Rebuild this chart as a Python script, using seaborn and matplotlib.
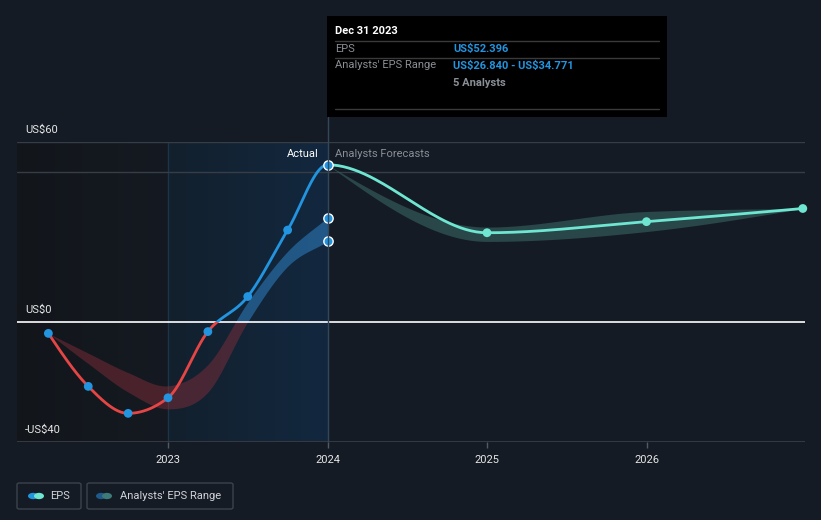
import numpy as np
import pandas as pd
import matplotlib
matplotlib.use("Agg")
import matplotlib.pyplot as plt
import seaborn as sns
from matplotlib.patches import Rectangle, FancyBboxPatch, Circle
from matplotlib.lines import Line2D
from matplotlib.colors import LinearSegmentedColormap

# ---------------- data ----------------
hist_x = [2022.25, 2022.5, 2022.75, 2023.0, 2023.25, 2023.5, 2023.75, 2024.0]
hist_eps = [-3.9, -21.6, -30.6, -25.4, -3.3, 8.4, 30.6, 52.396]
hist_range_hi = [-3.9, -10.5, -17.0, -21.4, -14.3, 6.5, 23.5, 34.771]
hist_range_lo = [-3.9, -14.0, -23.5, -29.1, -23.5, 0.0, 18.5, 26.840]

fc_x = [2024.0, 2025.0, 2026.0, 2026.98]
fc_eps = [52.396, 29.7, 33.4, 37.8]
fc_hi = [52.396, 31.6, 36.8, 37.8]
fc_lo = [52.396, 26.8, 30.1, 37.8]

y_ticks = [60, 0, -40]
y_tick_labels = ["US$60", "US$0", "-US$40"]
x_ticks = [2023, 2024, 2025, 2026]
x_tick_labels = ["2023", "2024", "2025", "2026"]

# ---------------- helpers ----------------
def hermite(x, y, m, n=60):
    h = np.diff(x)
    xs, ys = [], []
    for i in range(len(x) - 1):
        t = np.linspace(0, 1, n, endpoint=(i == len(x) - 2))
        h00 = 2 * t**3 - 3 * t**2 + 1
        h10 = t**3 - 2 * t**2 + t
        h01 = -2 * t**3 + 3 * t**2
        h11 = t**3 - t**2
        xs.append(x[i] + t * h[i])
        ys.append(h00 * y[i] + h10 * h[i] * m[i] + h01 * y[i + 1] + h11 * h[i] * m[i + 1])
    return np.concatenate(xs), np.concatenate(ys)

def monotone(x, y, n=60):
    x = np.asarray(x, float); y = np.asarray(y, float)
    h = np.diff(x); s = np.diff(y) / h
    m = np.zeros(len(x))
    for i in range(1, len(x) - 1):
        s0, s1 = s[i - 1], s[i]
        p = (s0 * h[i] + s1 * h[i - 1]) / (h[i - 1] + h[i])
        m[i] = (np.sign(s0) + np.sign(s1)) * min(abs(s0), abs(s1), 0.5 * abs(p))
    m[0] = (3 * s[0] - m[1]) / 2
    m[-1] = (3 * s[-1] - m[-2]) / 2
    return hermite(x, y, m, n)

def cardinal(x, y, n=60):
    x = np.asarray(x, float); y = np.asarray(y, float)
    m = np.zeros(len(x))
    for i in range(1, len(x) - 1):
        m[i] = (y[i + 1] - y[i - 1]) / (x[i + 1] - x[i - 1])
    m[0] = (y[1] - y[0]) / (x[1] - x[0])
    m[-1] = (y[-1] - y[-2]) / (x[-1] - x[-2])
    return hermite(x, y, m, n)

W, H = 821, 520
def fx(px): return px / W
def fy(py): return 1 - py / H

BG = "#151b24"
sns.set_theme(style="dark", rc={"axes.facecolor": BG, "figure.facecolor": BG})
plt.rcParams["font.family"] = ["Roboto", "DejaVu Sans"]

fig = plt.figure(figsize=(8.21, 5.20), dpi=100)
X0 = 2023 - 151 / 159.5
X1 = X0 + 788 / 159.5
ax = fig.add_axes([fx(17), fy(441.5), 788 / W, 299.5 / H])
ax.set_xlim(X0, X1)
ax.set_ylim(-40, 60)
ax.set_facecolor(BG)
for sp in ax.spines.values():
    sp.set_visible(False)
ax.grid(False)

# backgrounds
grad = np.linspace(0, 1, 256).reshape(1, -1)
cm_left = LinearSegmentedColormap.from_list("l", ["#12161b", "#151a22"])
ax.imshow(grad, extent=[X0, 2023, -40, 60], aspect="auto", cmap=cm_left, zorder=0)
cm_hl = LinearSegmentedColormap.from_list("h", ["#13202d", "#12283f"])
ax.imshow(grad, extent=[2023, 2024, -40, 60], aspect="auto", cmap=cm_hl, zorder=0)
ax.axvline(2023, color="#1e3449", lw=1, zorder=1)

# gridlines
for yv in [60, 50]:
    ax.axhline(yv, color="#373d46", lw=1, zorder=1)
ax.axhline(-40, color="#3b4048", lw=1.2, zorder=1)
ax.axhline(0, color="#ffffff", lw=1.2, zorder=3)

# clip rectangles
above = Rectangle((X0, 0), 2024 - X0 + 0.001, 200, transform=ax.transData)
below = Rectangle((X0, -200), 2024 - X0 + 0.001, 200, transform=ax.transData)
future = Rectangle((2024, -200), X1 - 2024 + 0.2, 400, transform=ax.transData)

# historical band
bx, bhi = cardinal(hist_x, hist_range_hi)
_, blo = cardinal(hist_x, hist_range_lo)
p1 = ax.fill_between(bx, blo, bhi, color="#2c79b8", alpha=0.6, lw=0, zorder=2)
p1.set_clip_path(above)
p2 = ax.fill_between(bx, blo, bhi, color="#8a2e3a", alpha=0.45, lw=0, zorder=2)
p2.set_clip_path(below)

# forecast band
fx_, fhi = monotone(fc_x, fc_hi)
_, flo = monotone(fc_x, fc_lo)
ax.fill_between(fx_, flo, fhi, color="#3a6a67", alpha=0.55, lw=0, zorder=2)

# EPS line: one continuous smooth curve through actuals and forecasts
all_x = hist_x + fc_x[1:]
all_y = hist_eps + fc_eps[1:]
cx, cy = monotone(all_x, all_y)
df_c = pd.DataFrame({"x": cx, "y": cy})
sns.lineplot(data=df_c, x="x", y="y", ax=ax, color="#2394df", lw=2.0, sort=False,
             estimator=None, zorder=4)
ax.lines[-1].set_clip_path(above)
sns.lineplot(data=df_c, x="x", y="y", ax=ax, color="#e64545", lw=2.0, sort=False,
             estimator=None, zorder=4)
ax.lines[-1].set_clip_path(below)
sns.lineplot(data=df_c, x="x", y="y", ax=ax, color="#6ee6d2", lw=2.0, sort=False,
             estimator=None, zorder=4)
ax.lines[-1].set_clip_path(future)

# points
sns.scatterplot(x=hist_x[:-1], y=hist_eps[:-1], ax=ax, color="#2394df", s=40,
                edgecolor="none", zorder=5)
sns.scatterplot(x=[hist_x[-1]] * 3, y=[hist_eps[-1], hist_range_hi[-1], hist_range_lo[-1]],
                ax=ax, color="#2394df", s=45, edgecolor="white", linewidth=1.0, zorder=6)
sns.scatterplot(x=fc_x[1:], y=fc_eps[1:], ax=ax, color="#6ee6d2", s=40,
                edgecolor="none", zorder=5, clip_on=False)

# ticks
ax.set_xticks(x_ticks)
ax.set_xticklabels(x_tick_labels, color="#e6e6e6", fontsize=8)
ax.set_yticks([])
ax.tick_params(axis="x", length=4, color="#555a62", width=1, pad=6, bottom=True)
ax.set_xlabel(""); ax.set_ylabel("")

# y labels
for v, lab in zip(y_ticks, y_tick_labels):
    py = 441.5 - (v + 40) * 2.995
    fig.text(fx(25), fy(py - 12), lab, color="#e6e6e6", fontsize=8, va="center", ha="left",
             parse_math=False)

# actual / forecast labels
fig.text(fx(319), fy(154), "Actual", color="#ffffff", fontsize=8, ha="right", va="center")
fig.text(fx(335), fy(154), "Analysts Forecasts", color="#8a8f96", fontsize=8, ha="left", va="center")

# vertical marker line at 2024 extending up to tooltip
fig.add_artist(Line2D([fx(327.5), fx(327.5)], [fy(117), fy(442)], color="#33475a", lw=1, zorder=1))

# tooltip
fig.add_artist(Rectangle((fx(327), fy(117)), 340 / W, 101 / H, facecolor="#000000",
                         edgecolor="none", zorder=10))
for ly in [41, 58, 109]:
    fig.add_artist(Line2D([fx(335), fx(659)], [fy(ly), fy(ly)], color="#3a3a3a", lw=1, zorder=11))
fig.text(fx(335), fy(31), "Dec 31 2023", color="#ffffff", fontsize=8, weight="bold",
         va="center", zorder=12)
fig.text(fx(335), fy(48.5), "EPS", color="#8a8f96", fontsize=8, va="center", zorder=12)
fig.text(fx(453), fy(48.5), "US$52.396", color="#2394df", fontsize=8, weight="bold",
         va="center", zorder=12, parse_math=False)
fig.text(fx(335), fy(65.5), "Analysts' EPS Range", color="#8a8f96", fontsize=8, va="center", zorder=12)
fig.text(fx(453), fy(65.5), "US$26.840 - US$34.771", color="#2394df", fontsize=8, weight="bold",
         va="center", zorder=12, parse_math=False)
fig.text(fx(453), fy(83), "5 Analysts", color="#8a8f96", fontsize=8, weight="bold",
         va="center", zorder=12)

# legend
def legbox(x0, x1, c1, c2, cx, tx, label):
    fig.add_artist(FancyBboxPatch((fx(x0), fy(509)), (x1 - x0) / W, 26 / H,
                                  boxstyle="round,pad=0,rounding_size=0.003",
                                  facecolor="none", edgecolor="#3d424b", lw=1))
    fig.add_artist(Circle((fx(cx), fy(496)), 5 / W, facecolor=c1, edgecolor="none"))
    fig.add_artist(Circle((fx(cx + 6), fy(496)), 5 / W, facecolor=c2, edgecolor="none"))
    fig.text(fx(tx), fy(496), label, color="#d0d3d8", fontsize=8, va="center")

legbox(17, 81, "#2394df", "#6ee6d2", 33, 50, "EPS")
legbox(87, 233, "#1f5a8a", "#3d7b78", 101, 120, "Analysts' EPS Range")

fig.savefig("out.png", dpi=100, facecolor=BG)
